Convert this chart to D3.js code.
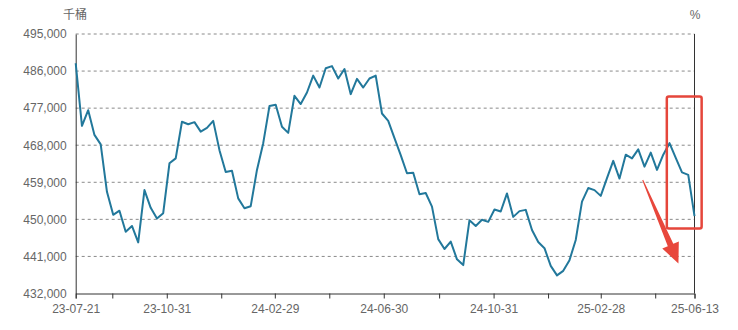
<!DOCTYPE html>
<html>
<head>
<meta charset="utf-8">
<script src="https://cdn.jsdelivr.net/npm/d3@7"></script>
<style>
  body { margin: 0; background: #fff; }
  svg text { font-family: "Liberation Sans", "Noto Sans CJK SC", sans-serif; }
</style>
</head>
<body>
<div id="chart"></div>
<script>
const width = 738, height = 330;
const margin = {top: 34, right: 43.5, bottom: 36.5, left: 75.7};

// weekly stocks, 千桶, first week 2023-07-21
const startDate = "2023-07-21";
const stocks = [
  487900, 472700, 476500, 470500, 468200, 456700, 451100, 452100, 447000, 448400,
  444400, 457100, 452800, 450200, 451500, 463600, 464800, 473700, 473100, 473600,
  471300, 472200, 473900, 466800, 461500, 461800, 455100, 452700, 453200, 462000,
  468500, 477500, 477800, 472500, 471000, 480000, 478000, 480800, 484900, 482000,
  486700, 487200, 484200, 486500, 480400, 484100, 482000, 484200, 484900, 475700,
  473900, 469700, 465600, 461200, 461300, 456100, 456400, 453100, 445200, 442800,
  444600, 440300, 438900, 449800, 448400, 449900, 449400, 452400, 451900, 456300,
  450600, 452000, 452300, 447400, 444500, 443000, 438700, 436400, 437500, 440100,
  445000, 454300, 457600, 457100, 455700, 460000, 464200, 459900, 465700, 464800,
  467000, 462800, 466200, 462000, 465700, 468500, 464900, 461400, 460800, 450800
];

const yTicks = [432000, 441000, 450000, 459000, 468000, 477000, 486000, 495000];
const xTickDates = ["2023-07-21", "2023-08-31", "2023-10-31", "2023-12-31", "2024-02-29",
  "2024-04-30", "2024-06-30", "2024-08-31", "2024-10-31", "2024-12-31", "2025-02-28",
  "2025-04-30", "2025-06-13"];
const xLabelDates = ["2023-07-21", "2023-10-31", "2024-02-29", "2024-06-30",
  "2024-10-31", "2025-02-28", "2025-06-13"];

// annotation: box round the last weeks, arrow pointing down
const boxDates = ["2025-05-13", "2025-06-21"], boxValues = [479800, 447800];
const arrowFrom = ["2025-04-16", 459550], arrowTo = ["2025-05-26", 439300];

const parse = d3.utcParse("%Y-%m-%d");
const fmtLabel = d3.utcFormat("%y-%m-%d");
const t0 = parse(startDate);
const data = stocks.map((v, i) => ({date: d3.utcDay.offset(t0, i * 7), value: v}));

const svg = d3.select("#chart").append("svg")
  .attr("width", width).attr("height", height);

const x = d3.scaleUtc()
  .domain([parse(xTickDates[0]), parse(xTickDates[xTickDates.length - 1])])
  .range([margin.left, width - margin.right]);
const y = d3.scaleLinear()
  .domain([432000, 495000])
  .range([height - margin.bottom, margin.top]);

// grid
svg.append("g")
  .selectAll("line")
  .data(yTicks.slice(1))
  .join("line")
  .attr("x1", margin.left).attr("x2", width - margin.right)
  .attr("y1", d => y(d)).attr("y2", d => y(d))
  .attr("stroke", "#8a8a8a")
  .attr("stroke-dasharray", "3,3");

// y axis
const yAxis = svg.append("g")
  .attr("transform", `translate(${margin.left},0)`)
  .call(d3.axisLeft(y).tickValues(yTicks).tickSize(0).tickPadding(9)
    .tickFormat(d3.format(",")));
yAxis.select(".domain").attr("stroke", "#333");
yAxis.selectAll("text").attr("fill", "#666").attr("font-size", 12);

// right axis line
svg.append("line")
  .attr("x1", width - margin.right).attr("x2", width - margin.right)
  .attr("y1", margin.top).attr("y2", height - margin.bottom)
  .attr("stroke", "#333");

// x axis
const labelSet = new Set(xLabelDates);
const xAxis = svg.append("g")
  .attr("transform", `translate(0,${height - margin.bottom})`)
  .call(d3.axisBottom(x).tickValues(xTickDates.map(parse)).tickSizeOuter(0)
    .tickSize(5).tickPadding(6)
    .tickFormat(d => labelSet.has(d3.utcFormat("%Y-%m-%d")(d)) ? fmtLabel(d) : ""));
xAxis.select(".domain").attr("stroke", "#333");
xAxis.selectAll("line").attr("stroke", "#333");
xAxis.selectAll("text").attr("fill", "#666").attr("font-size", 12);

// unit labels
svg.append("text").attr("x", 75).attr("y", 19).attr("text-anchor", "middle")
  .attr("fill", "#666").attr("font-size", 12).text("千桶");
svg.append("text").attr("x", 695).attr("y", 19).attr("text-anchor", "middle")
  .attr("fill", "#666").attr("font-size", 12).text("%");

// line
svg.append("path")
  .datum(data)
  .attr("fill", "none")
  .attr("stroke", "#22789b")
  .attr("stroke-width", 2)
  .attr("stroke-linejoin", "round")
  .attr("d", d3.line().x(d => x(d.date)).y(d => y(d.value)));

// box
const bx0 = x(parse(boxDates[0])), bx1 = x(parse(boxDates[1]));
svg.append("rect")
  .attr("x", bx0).attr("y", y(boxValues[0]))
  .attr("width", bx1 - bx0).attr("height", y(boxValues[1]) - y(boxValues[0]))
  .attr("rx", 2)
  .attr("fill", "none").attr("stroke", "#e5463b").attr("stroke-width", 2.5);

// arrow
const ax0 = x(parse(arrowFrom[0])), ay0 = y(arrowFrom[1]);
const ax1 = x(parse(arrowTo[0])), ay1 = y(arrowTo[1]);
const len = Math.hypot(ax1 - ax0, ay1 - ay0);
const ux = (ax1 - ax0) / len, uy = (ay1 - ay0) / len, nx = -uy, ny = ux;
const headLen = 20, headW = 9, shaftW = 3;
const bxh = ax1 - ux * headLen, byh = ay1 - uy * headLen;
const pts = [
  [ax0 + nx * 0.5, ay0 + ny * 0.5],
  [bxh + nx * shaftW, byh + ny * shaftW],
  [bxh + nx * headW, byh + ny * headW],
  [ax1, ay1],
  [bxh - nx * headW, byh - ny * headW],
  [bxh - nx * shaftW, byh - ny * shaftW],
  [ax0 - nx * 0.5, ay0 - ny * 0.5]
];
svg.append("path")
  .attr("d", d3.line()(pts) + "Z")
  .attr("fill", "#e8473c");
</script>
</body>
</html>
